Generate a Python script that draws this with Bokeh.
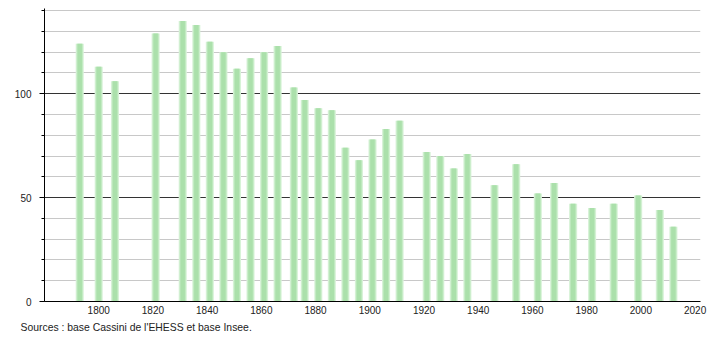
from bokeh.plotting import figure
from bokeh.models import FixedTicker, Range1d, Title, ColumnDataSource
from bokeh.embed import file_html
from bokeh.resources import INLINE

years = [1793, 1800, 1806, 1821, 1831, 1836, 1841, 1846, 1851, 1856, 1861, 1866,
         1872, 1876, 1881, 1886, 1891, 1896, 1901, 1906, 1911, 1921, 1926, 1931,
         1936, 1946, 1954, 1962, 1968, 1975, 1982, 1990, 1999, 2007, 2012]
population = [124, 113, 106, 129, 135, 133, 125, 120, 112, 117, 120, 123,
              103, 97, 93, 92, 74, 68, 78, 83, 87, 72, 70, 64,
              71, 56, 66, 52, 57, 47, 45, 47, 51, 44, 36]
x_ticks = [1800, 1820, 1840, 1860, 1880, 1900, 1920, 1940, 1960, 1980, 2000, 2020]
y_ticks = [0, 50, 100]
y_minor = [0, 10, 20, 30, 40, 50, 60, 70, 80, 90, 100, 110, 120, 130, 140]
source_text = "Sources : base Cassini de l'EHESS et base Insee."

src = ColumnDataSource(dict(x=years, top=population))

p = figure(width=710, height=340, output_backend="svg", toolbar_location=None,
           x_range=Range1d(1780, 2022), y_range=Range1d(0, 141),
           min_border_left=44, min_border_right=10, min_border_top=8,
           min_border_bottom=39)
p.outline_line_color = None
p.background_fill_color = "white"

# grid
p.xgrid.visible = False
p.ygrid.ticker = FixedTicker(ticks=[50, 100],
                             minor_ticks=[t for t in y_minor if t not in (0, 50, 100)])
p.ygrid.grid_line_color = "#333333"
p.ygrid.grid_line_width = 1
p.ygrid.minor_grid_line_color = "#c8c8c8"
p.ygrid.minor_grid_line_width = 1

# bars with soft edges
p.vbar(x="x", top="top", width=3.0, bottom=0, source=src, color="#daf3da", line_color=None)
p.vbar(x="x", top="top", width=2.3, bottom=0, source=src, color="#bfe9bf", line_color=None)
p.vbar(x="x", top="top", width=1.6, bottom=0, source=src, color="#abe0ab", line_color=None)

# axes
p.xaxis.ticker = FixedTicker(ticks=x_ticks)
p.xaxis.major_tick_line_color = None
p.xaxis.major_tick_out = 0
p.xaxis.major_tick_in = 0
p.xaxis.minor_tick_line_color = None
p.xaxis.minor_tick_out = 0
p.xaxis.axis_line_color = "black"
p.xaxis.major_label_text_font = "Liberation Sans"
p.xaxis.major_label_text_font_size = "10px"
p.xaxis.major_label_text_color = "#222222"
p.xaxis.major_label_standoff = 4

p.yaxis.ticker = FixedTicker(ticks=y_ticks, minor_ticks=y_minor)
p.yaxis.axis_line_color = "black"
p.yaxis.major_tick_line_color = "black"
p.yaxis.major_tick_out = 5
p.yaxis.major_tick_in = 0
p.yaxis.minor_tick_line_color = "black"
p.yaxis.minor_tick_out = 3
p.yaxis.minor_tick_in = 0
p.yaxis.major_label_text_font = "Liberation Sans"
p.yaxis.major_label_text_font_size = "10px"
p.yaxis.major_label_text_color = "#222222"
p.yaxis.major_label_standoff = 8

t = Title(text=source_text, align="left", text_font="Liberation Sans",
          text_font_size="10.4px", text_font_style="normal", text_color="#222222",
          offset=-24, standoff=6)
p.add_layout(t, "below")

open("out.html", "w").write(file_html(p, INLINE))
